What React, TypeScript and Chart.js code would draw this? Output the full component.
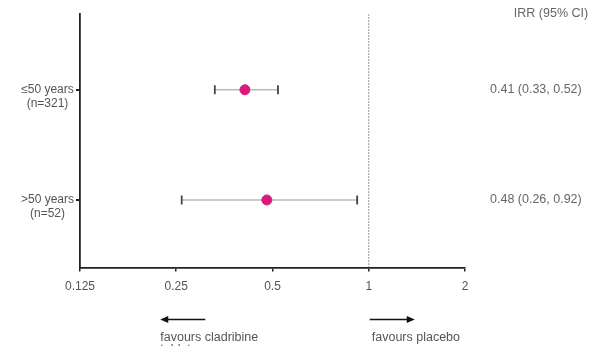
import React, { useEffect, useRef } from "react";
import { Chart, registerables } from "chart.js";
Chart.register(...registerables);

const groups = ["≤50 years|(n=321)", ">50 years|(n=52)"];
const rowPos = [0.298, 0.733];
const estimates = [0.41, 0.48];
const lower = [0.33, 0.26];
const upper = [0.52, 0.92];
const ciText = ["0.41 (0.33, 0.52)", "0.48 (0.26, 0.92)"];
const headerText = "IRR (95% CI)";
const xTicks = [0.125, 0.25, 0.5, 1, 2];
const xTickLabels = ["0.125", "0.25", "0.5", "1", "2"];
const leftNote = ["favours cladribine", "tablets"];
const rightNote = ["favours placebo"];

const FONT = "'Liberation Sans', Arial, sans-serif";

const annotations = {
  id: "annotations",
  afterDraw(chart: any) {
    const { ctx, chartArea, scales } = chart;
    const y = scales.y;
    const x = scales.x;
    ctx.save();
    ctx.fillStyle = "#666";
    ctx.font = `12.5px ${FONT}`;
    ctx.textBaseline = "middle";
    ctx.textAlign = "center";
    ctx.fillText(headerText, chartArea.right + 86, 6);
    ctx.textAlign = "left";
    const tx = chartArea.right + 25;
    ciText.forEach((t, i) => {
      ctx.fillText(t, tx, y.getPixelForValue(rowPos[i]));
    });
    // arrows
    const ay = chartArea.bottom + 52;
    const lx1 = x.getPixelForValue(0.25) - 16;
    const lx2 = lx1 + 45;
    const rx1 = x.getPixelForValue(1) + 1;
    const rx2 = rx1 + 45;
    ctx.strokeStyle = "#111";
    ctx.fillStyle = "#111";
    ctx.lineWidth = 1.5;
    ctx.beginPath();
    ctx.moveTo(lx2, ay);
    ctx.lineTo(lx1 + 6, ay);
    ctx.stroke();
    ctx.beginPath();
    ctx.moveTo(lx1, ay);
    ctx.lineTo(lx1 + 8, ay - 3.5);
    ctx.lineTo(lx1 + 8, ay + 3.5);
    ctx.closePath();
    ctx.fill();
    ctx.beginPath();
    ctx.moveTo(rx1, ay);
    ctx.lineTo(rx2 - 6, ay);
    ctx.stroke();
    ctx.beginPath();
    ctx.moveTo(rx2, ay);
    ctx.lineTo(rx2 - 8, ay - 3.5);
    ctx.lineTo(rx2 - 8, ay + 3.5);
    ctx.closePath();
    ctx.fill();
    ctx.fillStyle = "#555";
    ctx.font = `12.5px ${FONT}`;
    leftNote.forEach((t, i) => ctx.fillText(t, lx1, ay + 18 + i * 12));
    rightNote.forEach((t, i) => ctx.fillText(t, rx1 + 2, ay + 18 + i * 12));
    ctx.restore();
  },
};

export default function App() {
  const ref = useRef<HTMLCanvasElement>(null);
  useEffect(() => {
    const datasets: any[] = [];
    estimates.forEach((_, i) => {
      datasets.push({
        type: "line",
        data: [
          { x: lower[i], y: rowPos[i] },
          { x: upper[i], y: rowPos[i] },
        ],
        borderColor: "#bbb",
        borderWidth: 1.5,
        pointStyle: "line",
        rotation: 90,
        pointRadius: 4.5,
        pointBorderColor: "#444",
        pointBorderWidth: 1.8,
        showLine: true,
        order: 2,
      });
    });
    datasets.push({
      type: "line",
      data: [
        { x: 1, y: 0 },
        { x: 1, y: 1 },
      ],
      borderColor: "#777",
      borderWidth: 1,
      borderDash: [1.5, 1.5],
      pointRadius: 0,
      showLine: true,
      order: 3,
    });
    datasets.push({
      type: "scatter",
      data: estimates.map((v, i) => ({ x: v, y: rowPos[i] })),
      backgroundColor: "#d81b7a",
      borderColor: "#d81b7a",
      pointRadius: 5,
      order: 1,
    });
    const chart = new Chart(ref.current!, {
      type: "scatter",
      data: { datasets },
      options: {
        animation: false,
        responsive: true,
        maintainAspectRatio: false,
        layout: { padding: { left: 0, right: 133, top: 5, bottom: 44 } },
        plugins: { legend: { display: false }, tooltip: { enabled: false } },
        scales: {
          x: {
            type: "logarithmic",
            min: 0.125,
            max: 2,
            afterBuildTicks: (s: any) => {
              s.ticks = xTicks.map((v) => ({ value: v }));
            },
            ticks: {
              autoSkip: false,
              maxRotation: 0,
              color: "#555",
              font: { size: 12, family: FONT },
              padding: 8,
              callback: (v: any) => {
                const i = xTicks.indexOf(Number(v));
                return i >= 0 ? xTickLabels[i] : "";
              },
            },
            grid: {
              display: true,
              drawOnChartArea: false,
              drawTicks: true,
              tickLength: 4,
              color: "#222",
              lineWidth: 1.5,
            },
            border: { display: true, color: "#222", width: 1.8 },
          },
          y: {
            type: "linear",
            min: 0,
            max: 1,
            reverse: true,
            afterBuildTicks: (s: any) => {
              s.ticks = rowPos.map((v) => ({ value: v }));
            },
            afterFit: (s: any) => {
              s.width = 72;
              s.paddingTop = 0;
              s.paddingBottom = 0;
            },
            ticks: {
              autoSkip: false,
              color: "#555",
              crossAlign: "center",
              labelOffset: 7,
              font: { size: 12, family: FONT, lineHeight: 1.2 },
              padding: 2,
              callback: (v: any) => {
                const i = rowPos.indexOf(Number(v));
                return i >= 0 ? groups[i].split("|") : "";
              },
            },
            grid: {
              display: true,
              drawOnChartArea: false,
              drawTicks: true,
              tickLength: 4,
              color: "#222",
              lineWidth: 2,
            },
            border: { display: true, color: "#222", width: 1.8 },
          },
        },
      },
      plugins: [annotations],
    });
    return () => chart.destroy();
  }, []);
  return (
    <div style={{ width: 590, height: 338, position: "relative" }}>
      <canvas ref={ref} />
    </div>
  );
}
